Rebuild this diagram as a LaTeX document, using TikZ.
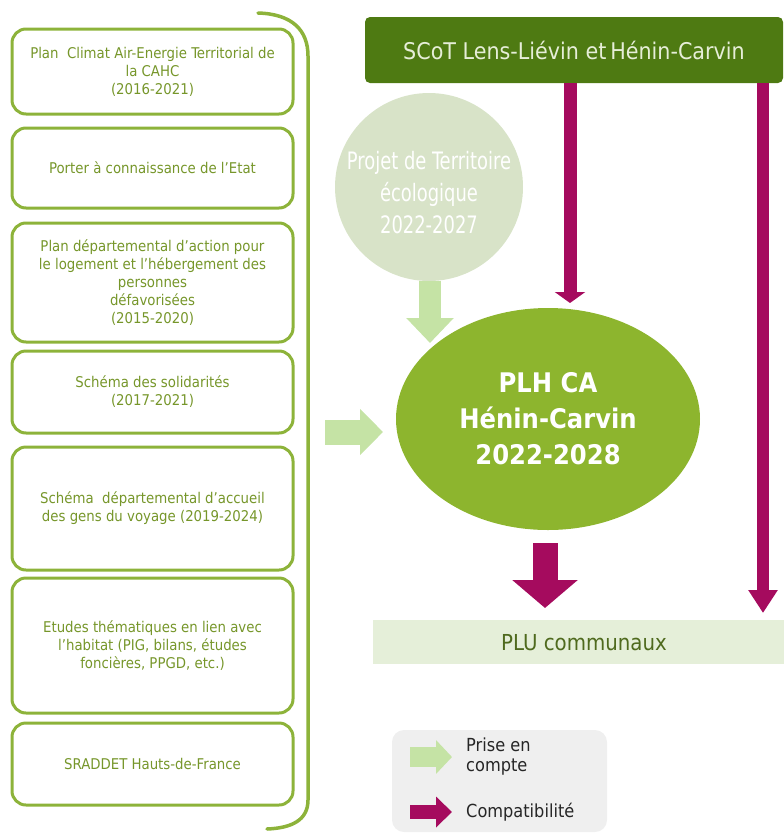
\documentclass[tikz,border=0pt]{standalone}
\usepackage{fontspec}
\setmainfont{DejaVu Sans Condensed}
\usepackage{graphicx}
\usetikzlibrary{arrows.meta,shapes.geometric}
\definecolor{boxgreen}{HTML}{8DB33A}
\definecolor{boxtext}{HTML}{76962A}
\definecolor{scotgreen}{HTML}{4E7A12}
\definecolor{scottext}{HTML}{E6EED8}
\definecolor{magen}{HTML}{A50B5E}
\definecolor{circgray}{HTML}{D8E3C8}
\definecolor{lightarrow}{HTML}{C5E3A5}
\definecolor{plhgreen}{HTML}{8DB52E}
\definecolor{plufill}{HTML}{E5EFD9}
\definecolor{plutext}{HTML}{4F6A1E}
\definecolor{legfill}{HTML}{EFEFEF}
\tikzset{
  lbox/.style={draw=boxgreen, line width=3pt, rounded corners=14pt, minimum width=281pt,
    align=center, text=boxtext, font=\fontsize{14.8}{18}\selectfont, inner sep=0pt},
  comparrow/.style={draw=magen, line width=#1},
  takearrow/.style={draw=lightarrow, line width=#1},
}
\begin{document}
\begin{tikzpicture}[x=1pt,y=-1pt]
\useasboundingbox (0,0) rectangle (784,833);

% left boxes
\node[lbox, minimum height=85pt] (b1) at (152.5,71.5) {Plan\ \ Climat Air-Energie Territorial de\\la CAHC\\(2016-2021)};
\node[lbox, minimum height=80pt] (b2) at (152.5,168) {Porter à connaissance de l’Etat};
\node[lbox, minimum height=119pt] (b3) at (152.5,282.5) {Plan départemental d’action pour\\le logement et l’hébergement des\\personnes\\défavorisées\\(2015-2020)};
\node[lbox, minimum height=82pt] (b4) at (152.5,392) {Schéma des solidarités\\(2017-2021)};
\node[lbox, minimum height=123pt] (b5) at (152.5,508.5) {Schéma\ \ départemental d’accueil\\des gens du voyage (2019-2024)};
\node[lbox, minimum height=135pt] (b6) at (152.5,645.5) {Etudes thématiques en lien avec\\l’habitat (PIG, bilans, études\\foncières, PPGD, etc.)};
\node[lbox, minimum height=82pt] (b7) at (152.5,764) {SRADDET Hauts-de-France};

% bracket
\draw[boxgreen, line width=3.5pt, line cap=round]
  (258,13) .. controls (292,14) and (308,30) .. (308,56) -- (308,800)
  .. controls (308,820) and (292,828) .. (267,829);

% SCoT
\node[fill=scotgreen, rounded corners=5pt, minimum width=418pt, minimum height=66pt, inner sep=0pt,
  text=scottext, font=\fontsize{23}{26}\selectfont] (scot) at (574,50) {SCoT Lens-Liévin et\,Hénin-Carvin};

% circle
\node[circle, fill=circgray, minimum size=188pt, inner sep=0pt] (circ) at (429,187) {};
\node[align=center, text=white, font=\fontsize{24}{32}\selectfont, inner sep=0pt] (circt) at (429,193)
  {\scalebox{0.83}[1]{Projet de Territoire}\\\scalebox{0.83}[1]{écologique}\\\scalebox{0.83}[1]{2022-2027}};

% PLH ellipse
\node[ellipse, fill=plhgreen, minimum width=304pt, minimum height=222pt, inner sep=0pt,
  align=center, text=white, font=\bfseries\fontsize{27}{36}\selectfont] (plh) at (548,419)
  {PLH CA\\Hénin-Carvin\\2022-2028};

% PLU
\node[fill=plufill, minimum width=411pt, minimum height=44pt, inner sep=0pt] (plu) at (578.5,642) {};
\node[text=plutext, font=\fontsize{22}{24}\selectfont, inner sep=0pt] (plut) at (584,643) {PLU communaux};

% compatibility arrows
\coordinate (m1) at (570,303);
\draw[comparrow=13pt, -{Triangle[width=30pt,length=11pt]}] (scot.south -| m1) -- (m1);
\coordinate (m2) at (763,613);
\draw[comparrow=12pt, -{Triangle[width=28pt,length=23pt]}] (scot.south -| m2) -- (m2);
\coordinate (m3a) at (545,543);
\coordinate (m3) at (545,608);
\draw[comparrow=25pt, -{Triangle[width=64pt,length=28pt]}] (m3a) -- (m3);

% prise en compte arrows
\coordinate (g1) at (430,343);
\draw[takearrow=22pt, -{Triangle[width=46pt,length=25pt]}] (circ.south -| g1) -- (g1);
\coordinate (g2a) at (325,432);
\coordinate (g2) at (383,432);
\draw[takearrow=25pt, -{Triangle[width=45pt,length=23pt]}] (g2a) -- (g2);

% legend
\node[fill=legfill, rounded corners=12pt, minimum width=215pt, minimum height=102pt, inner sep=0pt] (leg) at (499.5,781) {};
\coordinate (l1a) at (410,757);
\coordinate (l1) at (452,757);
\draw[takearrow=20pt, -{Triangle[width=33pt,length=16pt]}] (l1a) -- (l1);
\coordinate (l2a) at (410,812);
\coordinate (l2) at (452,812);
\draw[comparrow=14pt, -{Triangle[width=30pt,length=16pt]}] (l2a) -- (l2);
\node[anchor=west, align=left, font=\fontsize{18}{20}\selectfont, text=black!85, inner sep=0pt] (lt1) at (466,757) {Prise en\\compte};
\node[anchor=west, font=\fontsize{18}{20}\selectfont, text=black!85, inner sep=0pt] (lt2) at (466,812) {Compatibilité};
\end{tikzpicture}
\end{document}
